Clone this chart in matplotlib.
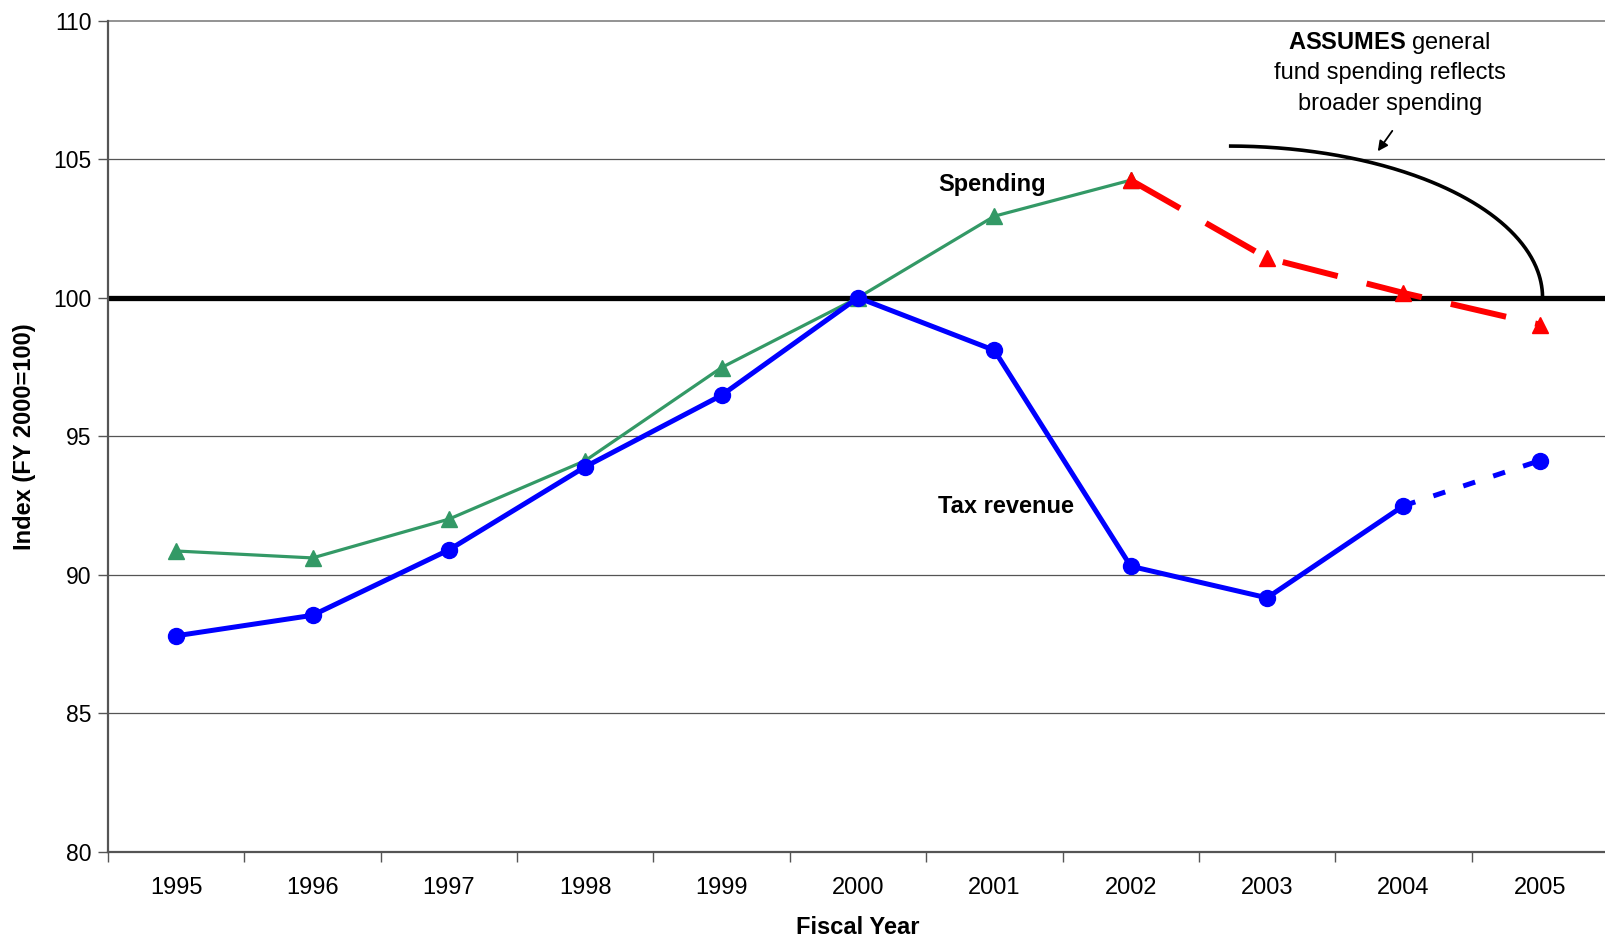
import numpy as np
import matplotlib
matplotlib.use("Agg")
import matplotlib.pyplot as plt

plt.rcParams['font.family'] = ['Liberation Sans', 'DejaVu Sans']
plt.rcParams['mathtext.fontset'] = 'custom'
plt.rcParams['mathtext.rm'] = 'Liberation Sans'
plt.rcParams['mathtext.bf'] = 'Liberation Sans:bold'

years = ['1995', '1996', '1997', '1998', '1999', '2000', '2001', '2002', '2003', '2004', '2005']
tax_revenue = [87.8, 88.54, 90.9, 93.9, 96.48, 100.0, 98.1, 90.31, 89.17, 92.49, 94.12]
spending_actual = [90.86, 90.61, 92.01, 94.12, 97.48, 100.0, 102.94, 104.24]
spending_projected = [104.24, 101.43, 100.17, 99.03]
baseline = 100
y_ticks = [80, 85, 90, 95, 100, 105, 110]

x = np.arange(len(years))
n_actual_tax = 10  # 1995-2004 actual, 2005 projected

fig = plt.figure(figsize=(16.06, 9.39), dpi=100)
ax = fig.add_axes([108 / 1606, 87 / 939, 1500 / 1606, (852 - 20.5) / 939])

ax.set_xlim(-0.5, len(years) - 0.5)
ax.set_ylim(80, 110)

# grid and baseline
for v in y_ticks[1:-1]:
    ax.axhline(v, color='#555555', lw=0.9, zorder=1)
ax.axhline(baseline, color='black', lw=3.8, zorder=2)

# spending
ax.plot(x[:len(spending_actual)], spending_actual, color='#339966', lw=2.3,
        marker='^', ms=11, zorder=4)
ax.plot(x[len(spending_actual) - 1:], spending_projected, color='#ff0000', lw=4.3,
        dashes=(9.5, 5), marker='^', ms=11, zorder=5)

# tax revenue
ax.plot(x[:n_actual_tax], tax_revenue[:n_actual_tax], color='#0000ff', lw=3.6,
        marker='o', ms=11.5, zorder=4)
ax.plot(x[n_actual_tax - 1:], tax_revenue[n_actual_tax - 1:], color='#0000ff', lw=3.6,
        dashes=(2.5, 3.8), zorder=4)
ax.plot(x[-1], tax_revenue[-1], color='#0000ff', marker='o', ms=11.5, zorder=4)

# series labels
ax.text(5.585, 104.1, 'Spending', fontsize=17, fontweight='bold', va='center', ha='left')
ax.text(5.585, 92.45, 'Tax revenue', fontsize=17, fontweight='bold', va='center', ha='left')

# bracket arc from the note down to the baseline
cx, top = 7.72, 105.47
theta = np.linspace(np.pi / 2, 0, 200)
ax.plot(cx + (10.02 - cx) * np.cos(theta), baseline + (top - baseline) * np.sin(theta),
        color='black', lw=2.6, zorder=3, solid_capstyle='butt')

# note text with arrow
ax.text(8.9, 109.2, r'$\mathbf{ASSUMES}$ general', fontsize=17, ha='center', va='center')
ax.text(8.9, 108.1, 'fund spending reflects', fontsize=17, ha='center', va='center')
ax.text(8.9, 107.0, 'broader spending', fontsize=17, ha='center', va='center')
ax.annotate('', xy=(8.80, 105.2), xytext=(8.93, 106.1),
            arrowprops=dict(arrowstyle='-|>', color='black', lw=1.3, mutation_scale=15))

# axes styling
for side in ['top', 'right']:
    ax.spines[side].set_visible(False)
ax.plot([-0.5, len(years) - 0.5], [110, 110], color='#808080', lw=1.2, clip_on=False, zorder=1)
ax.spines['left'].set_color('#555555')
ax.spines['left'].set_linewidth(1.6)
ax.spines['bottom'].set_color('#555555')
ax.spines['bottom'].set_linewidth(1.6)

ax.set_yticks(y_ticks)
ax.set_yticklabels([str(v) for v in y_ticks], fontsize=16.5)
ax.tick_params(axis='y', direction='out', length=7, width=1, color='#555555', pad=5)

ax.set_xticks(x)
ax.set_xticklabels(years, fontsize=17)
ax.set_xticks(np.arange(-0.5, len(years)), minor=True)
ax.tick_params(axis='x', which='major', length=0, pad=18)
ax.tick_params(axis='x', which='minor', direction='out', length=7, width=1, color='#555555')

ax.set_xlabel('Fiscal Year', fontsize=17, fontweight='bold', labelpad=12.5)
ax.set_ylabel('Index (FY 2000=100)', fontsize=17, fontweight='bold', labelpad=12)

fig.savefig('out.png', dpi=100)
